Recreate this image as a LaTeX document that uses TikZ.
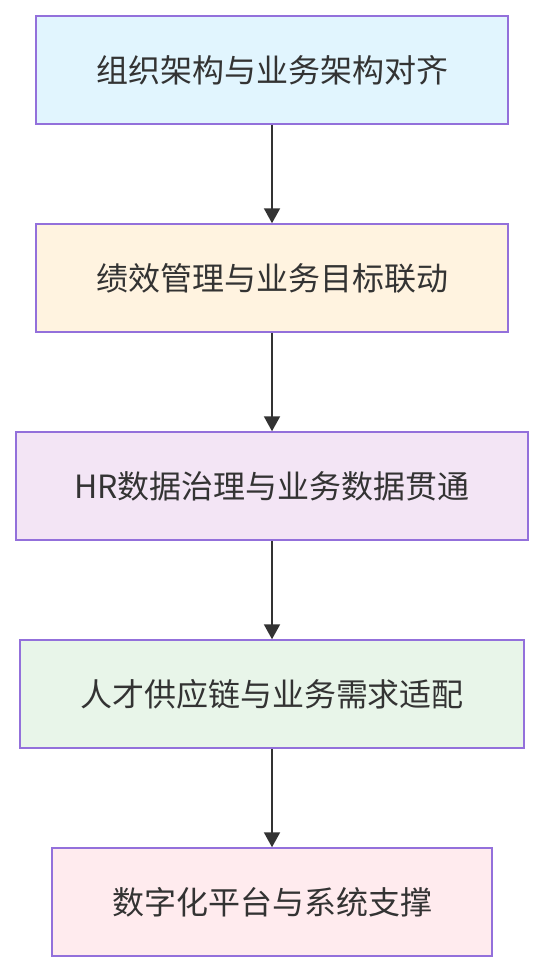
\documentclass[tikz,border=0pt]{standalone}
\usepackage{fontspec}
\newfontfamily\cjk{Noto Sans CJK SC}
\usetikzlibrary{arrows.meta}
\definecolor{bd}{HTML}{9370DB}
\definecolor{tx}{HTML}{333333}
\definecolor{fa}{HTML}{E1F5FE}
\definecolor{fb}{HTML}{FFF3E0}
\definecolor{fc}{HTML}{F3E5F5}
\definecolor{fd}{HTML}{E8F5E9}
\definecolor{fe}{HTML}{FFEBEE}
\tikzset{
  stepbox/.style={draw=bd, line width=1.5pt, minimum height=108pt, inner sep=0pt,
    text=tx, font=\cjk\fontsize{32}{38}\selectfont},
  conn/.style={draw=tx, line width=2pt, -{Triangle[length=15pt,width=16pt]}}
}
\begin{document}
\begin{tikzpicture}[x=1pt,y=-1pt]
\useasboundingbox (0,0) rectangle (543,972);
\node[stepbox, fill=fa, minimum width=472pt] (a) at (272,70) {组织架构与业务架构对齐};
\node[stepbox, fill=fb, minimum width=472pt] (b) at (272,278) {绩效管理与业务目标联动};
\node[stepbox, fill=fc, minimum width=512pt] (c) at (272,486) {HR数据治理与业务数据贯通};
\node[stepbox, fill=fd, minimum width=504pt] (d) at (272,694) {人才供应链与业务需求适配};
\node[stepbox, fill=fe, minimum width=440pt] (e) at (272,902) {数字化平台与系统支撑};
\draw[conn] (a) -- (b);
\draw[conn] (b) -- (c);
\draw[conn] (c) -- (d);
\draw[conn] (d) -- (e);
\end{tikzpicture}
\end{document}
